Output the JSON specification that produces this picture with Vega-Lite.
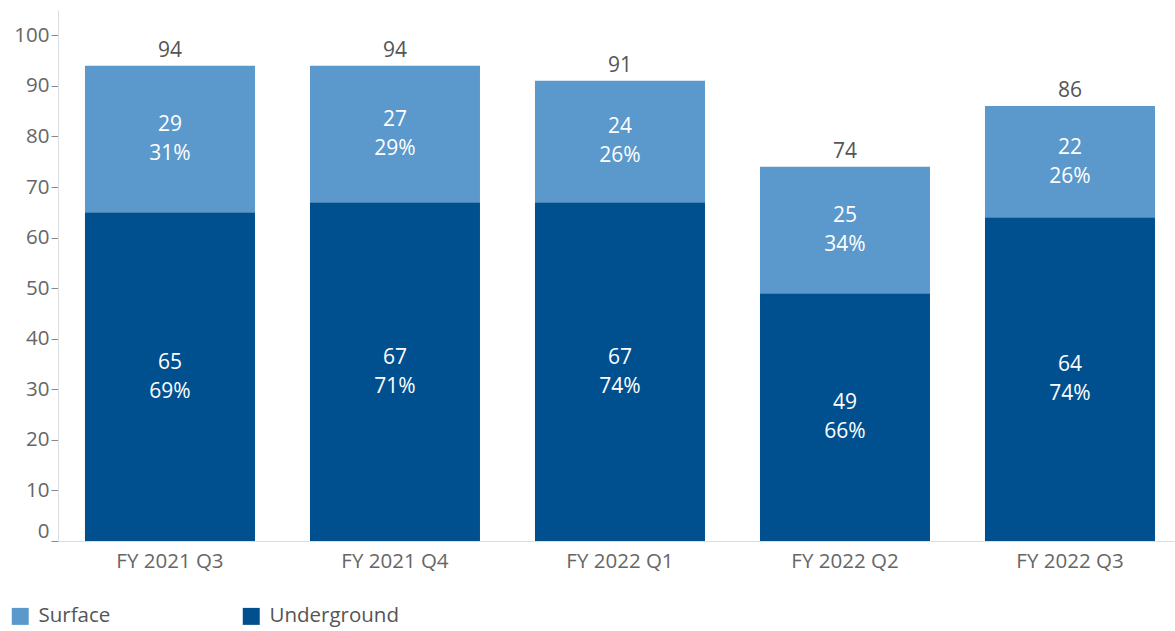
{
  "$schema": "https://vega.github.io/schema/vega-lite/v6.json",
  "width": 1117,
  "height": 531,
  "autosize": "none",
  "padding": {"left": 58, "top": 10, "right": 0, "bottom": 90},
  "config": {"view": {"stroke": null}, "font": "Open Sans"},
  "data": {
    "values": [
      {"quarter": "FY 2021 Q3", "type": "Underground", "value": 65, "pct": "69%"},
      {"quarter": "FY 2021 Q3", "type": "Surface", "value": 29, "pct": "31%"},
      {"quarter": "FY 2021 Q4", "type": "Underground", "value": 67, "pct": "71%"},
      {"quarter": "FY 2021 Q4", "type": "Surface", "value": 27, "pct": "29%"},
      {"quarter": "FY 2022 Q1", "type": "Underground", "value": 67, "pct": "74%"},
      {"quarter": "FY 2022 Q1", "type": "Surface", "value": 24, "pct": "26%"},
      {"quarter": "FY 2022 Q2", "type": "Underground", "value": 49, "pct": "66%"},
      {"quarter": "FY 2022 Q2", "type": "Surface", "value": 25, "pct": "34%"},
      {"quarter": "FY 2022 Q3", "type": "Underground", "value": 64, "pct": "74%"},
      {"quarter": "FY 2022 Q3", "type": "Surface", "value": 22, "pct": "26%"}
    ]
  },
  "encoding": {
    "x": {
      "field": "quarter",
      "type": "nominal",
      "sort": null,
      "scale": {"paddingInner": 0.2444, "paddingOuter": 0.1044, "align": 0.574},
      "axis": {
        "title": null,
        "labelAngle": 0,
        "labelFontSize": 20.5,
        "labelColor": "#666666",
        "labelPadding": 10,
        "ticks": false,
        "domainColor": "#dddddd",
        "domainWidth": 1
      }
    }
  },
  "layer": [
    {
      "mark": {"type": "bar"},
      "encoding": {
        "y": {
          "field": "value",
          "type": "quantitative",
          "stack": "zero",
          "title": null,
          "scale": {"domain": [0, 105], "nice": false},
          "axis": {
            "title": null,
            "values": [0, 10, 20, 30, 40, 50, 60, 70, 80, 90, 100],
            "grid": false,
            "labelFontSize": 20.5,
            "labelColor": "#666666",
            "labelPadding": 2,
            "labelBaseline": {"condition": {"test": "datum.value === 0", "value": "bottom"}, "value": "middle"},
            "tickColor": "#888888",
            "tickSize": 7,
            "domainColor": "#dddddd",
            "domainWidth": 1
          }
        },
        "color": {
          "field": "type",
          "type": "nominal",
          "scale": {"domain": ["Surface", "Underground"], "range": ["#5b98cb", "#00508f"]},
          "legend": {
            "title": null,
            "orient": "none",
            "legendX": -48,
            "legendY": 596,
            "direction": "horizontal",
            "columns": 2,
            "columnPadding": 130,
            "symbolType": "square",
            "symbolSize": 289,
            "symbolStrokeWidth": 0,
            "symbolOpacity": 1,
            "labelFontSize": 20.5,
            "labelColor": "#555555",
            "labelOffset": 8
          }
        },
        "order": {"field": "type", "sort": "descending"}
      }
    },
    {
      "transform": [
        {"stack": "value", "groupby": ["quarter"], "sort": [{"field": "type", "order": "descending"}], "as": ["v0", "v1"]},
        {"calculate": "(datum.v0 + datum.v1) / 2", "as": "mid"}
      ],
      "layer": [
        {
          "mark": {"type": "text", "color": "white", "fontSize": 21, "dy": -14},
          "encoding": {
            "y": {"field": "mid", "type": "quantitative", "title": null},
            "text": {"field": "value", "type": "quantitative"}
          }
        },
        {
          "mark": {"type": "text", "color": "white", "fontSize": 21, "dy": 15},
          "encoding": {
            "y": {"field": "mid", "type": "quantitative", "title": null},
            "text": {"field": "pct", "type": "nominal"}
          }
        }
      ]
    },
    {
      "transform": [
        {"aggregate": [{"op": "sum", "field": "value", "as": "total"}], "groupby": ["quarter"]}
      ],
      "mark": {"type": "text", "color": "#555555", "fontSize": 21, "baseline": "bottom", "dy": -5},
      "encoding": {
        "y": {"field": "total", "type": "quantitative", "title": null},
        "text": {"field": "total", "type": "quantitative"}
      }
    }
  ]
}
